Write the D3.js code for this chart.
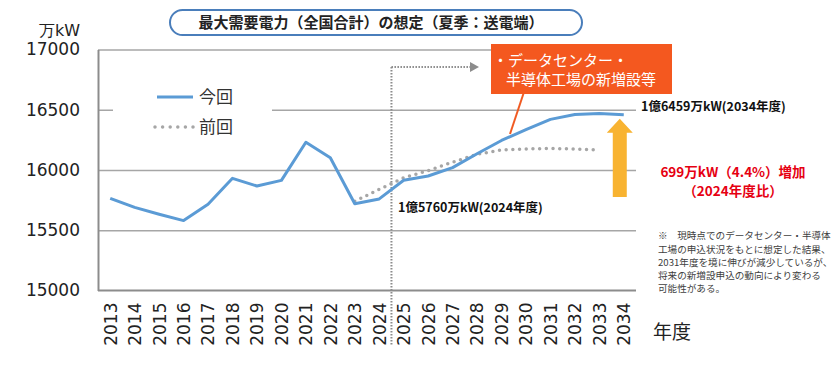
<!DOCTYPE html>
<html>
<head>
<meta charset="utf-8">
<script src="https://cdn.jsdelivr.net/npm/d3@7"></script>
<style>
  body { margin: 0; background: #fff; }
  svg { display: block; }
</style>
</head>
<body>
<div id="chart"></div>
<script>
const years = ["2013", "2014", "2015", "2016", "2017", "2018", "2019", "2020", "2021", "2022", "2023",
  "2024", "2025", "2026", "2027", "2028", "2029", "2030", "2031", "2032", "2033", "2034"];
const currentValues = [15765, 15690, 15633, 15580, 15716, 15931, 15867, 15914, 16230, 16102, 15720,
  15760, 15915, 15950, 16020, 16135, 16245, 16335, 16420, 16460, 16468, 16459];
const previousYears = ["2023", "2024", "2025", "2026", "2027", "2028", "2029", "2030", "2031", "2032", "2033"];
const previousValues = [15740, 15840, 15935, 15995, 16065, 16130, 16166, 16175, 16178, 16175, 16165];
const yTicks = [15000, 15500, 16000, 16500, 17000];

const jp = "'Noto Sans CJK JP', sans-serif";
const num = "'DejaVu Sans', Verdana, sans-serif";

const size = { x: 840, y: 366 };
const plot = { left: 98, right: 636, top: 49.5, bottom: 290.5 };

const svg = d3.select("#chart")
  .append("svg")
  .attr("width", size.x)
  .attr("height", size.y);

const xScale = d3.scalePoint()
  .domain(years)
  .range([plot.left, plot.right])
  .padding(0.5);

const yScale = d3.scaleLinear()
  .domain([15000, 17000])
  .range([plot.bottom, plot.top]);

// gridlines
svg.append("g")
  .attr("transform", `translate(${plot.left},0)`)
  .call(d3.axisLeft(yScale).tickValues(yTicks.slice(1)).tickSize(-(plot.right - plot.left)).tickFormat(""))
  .call(g => g.select(".domain").remove())
  .selectAll("line")
  .attr("stroke", "#a6a6a6")
  .attr("stroke-width", 1.5);

// y axis
svg.append("g")
  .attr("transform", `translate(${plot.left},0)`)
  .call(d3.axisLeft(yScale).tickValues(yTicks).tickSize(0).tickPadding(18).tickFormat(d3.format("d")))
  .call(g => g.select(".domain").attr("stroke", "#8c8c8c").attr("stroke-width", 2))
  .selectAll("text")
  .attr("font-family", num)
  .attr("font-size", 17)
  .attr("fill", "#222");

svg.append("text")
  .text("万kW")
  .attr("x", 80)
  .attr("y", 36)
  .attr("text-anchor", "end")
  .attr("font-family", num)
  .attr("font-size", 16)
  .attr("fill", "#222");

// x axis
svg.append("g")
  .attr("transform", `translate(0,${plot.bottom})`)
  .call(d3.axisBottom(xScale).tickSize(0).tickSizeOuter(0))
  .call(g => g.select(".domain").attr("d", `M${plot.left},0H${plot.right}`).attr("stroke", "#8c8c8c").attr("stroke-width", 2))
  .selectAll("text")
  .attr("transform", "rotate(-90)")
  .attr("x", -12)
  .attr("y", 0)
  .attr("dy", "0.35em")
  .attr("text-anchor", "end")
  .attr("font-family", num)
  .attr("font-size", 17)
  .attr("fill", "#222");

svg.append("text")
  .text("年度")
  .attr("x", 653)
  .attr("y", 339)
  .attr("font-family", jp)
  .attr("font-size", 19)
  .attr("fill", "#222");

// legend (white background hides the grid)
svg.append("rect")
  .attr("x", 113).attr("y", 80).attr("width", 159).attr("height", 60)
  .attr("fill", "#fff");

svg.append("line")
  .attr("x1", 157).attr("x2", 193).attr("y1", 97).attr("y2", 97)
  .attr("stroke", "#5b9bd5").attr("stroke-width", 3);
svg.append("text").text("今回")
  .attr("x", 199).attr("y", 97).attr("dy", "0.36em")
  .attr("font-family", jp).attr("font-size", 17).attr("fill", "#333");

svg.append("line")
  .attr("x1", 155).attr("x2", 193).attr("y1", 127).attr("y2", 127)
  .attr("stroke", "#a6a6a6").attr("stroke-width", 3.5)
  .attr("stroke-linecap", "round").attr("stroke-dasharray", "0 7.6");
svg.append("text").text("前回")
  .attr("x", 199).attr("y", 127).attr("dy", "0.36em")
  .attr("font-family", jp).attr("font-size", 17).attr("fill", "#333");

// 2024/2025 divider and arrow
const divX = (xScale("2024") + xScale("2025")) / 2;
svg.append("line")
  .attr("x1", divX).attr("x2", divX).attr("y1", 67).attr("y2", 345)
  .attr("stroke", "#8c8c8c").attr("stroke-width", 2).attr("stroke-dasharray", "1.5 1.5");
svg.append("line")
  .attr("x1", divX).attr("x2", 471).attr("y1", 67).attr("y2", 67)
  .attr("stroke", "#8c8c8c").attr("stroke-width", 2).attr("stroke-dasharray", "1.5 1.5");
svg.append("path")
  .attr("d", "M470,62L479,67L470,72Z")
  .attr("fill", "#8c8c8c");

// lines
const line = d3.line()
  .x(d => xScale(d[0]))
  .y(d => yScale(d[1]));

svg.append("path")
  .datum(d3.zip(previousYears, previousValues))
  .attr("d", line)
  .attr("fill", "none")
  .attr("stroke", "#a6a6a6")
  .attr("stroke-width", 3.5)
  .attr("stroke-linecap", "round")
  .attr("stroke-dasharray", "0 6.7");

svg.append("path")
  .datum(d3.zip(years, currentValues))
  .attr("d", line)
  .attr("fill", "none")
  .attr("stroke", "#5b9bd5")
  .attr("stroke-width", 3)
  .attr("stroke-linejoin", "round");

// orange callout
svg.append("line")
  .attr("x1", 524).attr("y1", 92).attr("x2", 510).attr("y2", 134)
  .attr("stroke", "#f05a22").attr("stroke-width", 2);
svg.append("rect")
  .attr("x", 491).attr("y", 44).attr("width", 181).attr("height", 50)
  .attr("fill", "#f4581f");
svg.append("text").text("・データセンター・")
  .attr("x", 493).attr("y", 61).attr("dy", "0.36em")
  .attr("font-family", jp).attr("font-size", 15).attr("fill", "#fff");
svg.append("text").text("半導体工場の新増設等")
  .attr("x", 506).attr("y", 80).attr("dy", "0.36em")
  .attr("font-family", jp).attr("font-size", 15).attr("fill", "#fff");

// value labels
svg.append("text").text("1億6459万kW(2034年度)")
  .attr("x", 641).attr("y", 106).attr("dy", "0.36em")
  .attr("font-family", jp).attr("font-size", 12.5).attr("font-weight", 700).attr("fill", "#111");
svg.append("text").text("1億5760万kW(2024年度)")
  .attr("x", 398).attr("y", 207).attr("dy", "0.36em")
  .attr("font-family", jp).attr("font-size", 12.5).attr("font-weight", 700).attr("fill", "#111");

// yellow arrow from 2024 level to 2034 level
const ax = xScale("2034") - 4;
const aTop = yScale(currentValues[currentValues.length - 1]) + 4;
const aBot = yScale(currentValues[years.indexOf("2024")]) - 2;
svg.append("path")
  .attr("d", `M${ax},${aTop}L${ax + 13},${aTop + 14}L${ax + 7},${aTop + 14}L${ax + 7},${aBot}` +
    `L${ax - 7},${aBot}L${ax - 7},${aTop + 14}L${ax - 13},${aTop + 14}Z`)
  .attr("fill", "#f8b331");

svg.append("text").text("699万kW（4.4%）増加")
  .attr("x", 733).attr("y", 172).attr("dy", "0.36em").attr("text-anchor", "middle")
  .attr("font-family", jp).attr("font-size", 13.5).attr("font-weight", 700).attr("fill", "#e60012");
svg.append("text").text("（2024年度比）")
  .attr("x", 733).attr("y", 191).attr("dy", "0.36em").attr("text-anchor", "middle")
  .attr("font-family", jp).attr("font-size", 13.5).attr("font-weight", 700).attr("fill", "#e60012");

// note
const noteLines = [
  "※　現時点でのデータセンター・半導体",
  "工場の申込状況をもとに想定した結果、",
  "2031年度を境に伸びが減少しているが、",
  "将来の新増設申込の動向により変わる",
  "可能性がある。"
];
svg.append("g")
  .selectAll("text")
  .data(noteLines)
  .join("text")
  .text(d => d)
  .attr("x", 658)
  .attr("y", (d, i) => 236 + i * 13.2)
  .attr("dy", "0.36em")
  .attr("font-family", jp)
  .attr("font-size", 9.6)
  .attr("fill", "#404040");

// title
svg.append("rect")
  .attr("x", 170).attr("y", 10).attr("width", 412).attr("height", 25).attr("rx", 12.5)
  .attr("fill", "#fff").attr("stroke", "#4a7ebb").attr("stroke-width", 2);
svg.append("text").text("最大需要電力（全国合計）の想定（夏季：送電端）")
  .attr("x", 371).attr("y", 23).attr("dy", "0.36em").attr("text-anchor", "middle")
  .attr("font-family", jp).attr("font-size", 15).attr("font-weight", 700).attr("fill", "#222");
</script>
</body>
</html>
